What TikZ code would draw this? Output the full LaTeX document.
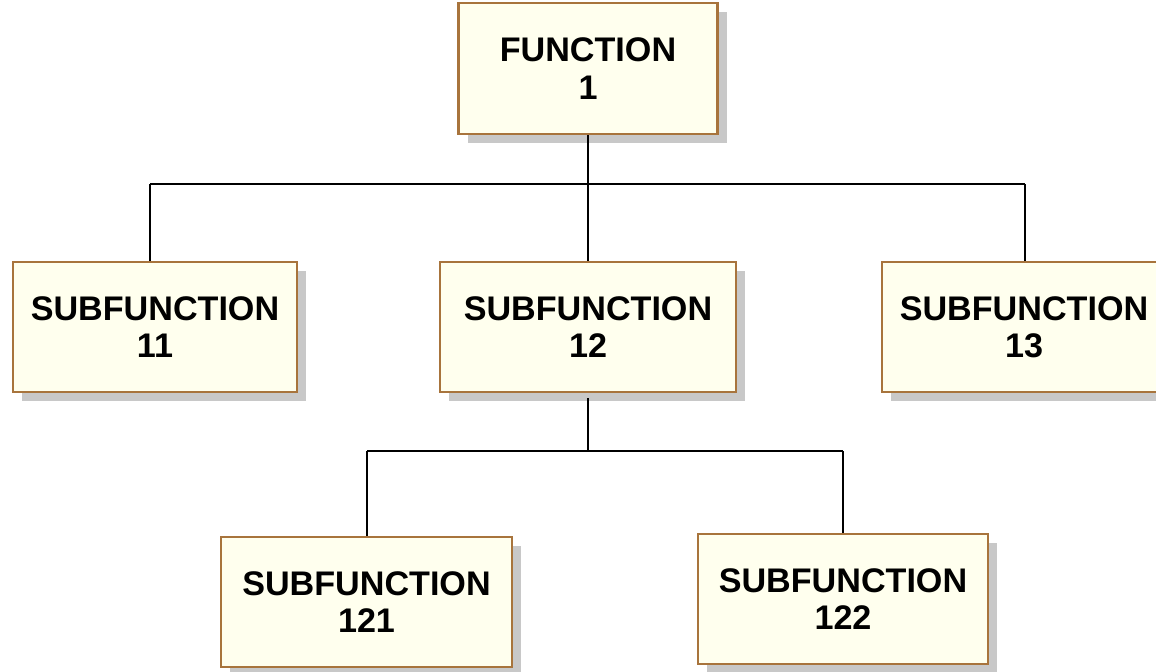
\documentclass[tikz,border=0pt]{standalone}
\usepackage{fontspec}
\newfontfamily\boxfont{Liberation Sans}
\usetikzlibrary{shadows}
\definecolor{boxfill}{HTML}{FFFFEE}
\definecolor{boxline}{HTML}{A8743C}
\definecolor{shadowgray}{HTML}{C8C8C8}
\tikzset{
  fbox/.style={rectangle, draw=boxline, line width=1.6pt, fill=boxfill,
    align=center, inner sep=0pt,
    font=\boxfont\bfseries\fontsize{25.6}{28}\selectfont,
    drop shadow={shadow xshift=6.75pt, shadow yshift=-6.75pt, fill=shadowgray, opacity=1}},
  conn/.style={line width=1.8pt, black}
}
\begin{document}
\begin{tikzpicture}[x=0.75pt,y=-0.75pt]
\useasboundingbox (0,0) rectangle (1156,671);
\clip (0,0) rectangle (1156,671);
\node[fbox, minimum width=259*0.75pt, minimum height=131*0.75pt] (f1) at (588,68.5) {FUNCTION\\1};
\node[fbox, minimum width=284*0.75pt, minimum height=130*0.75pt] (s11) at (155,327) {SUBFUNCTION\\11};
\node[fbox, minimum width=296*0.75pt, minimum height=130*0.75pt] (s12) at (588,327) {SUBFUNCTION\\12};
\node[fbox, minimum width=284*0.75pt, minimum height=130*0.75pt] (s13) at (1024,327) {SUBFUNCTION\\13};
\node[fbox, minimum width=291*0.75pt, minimum height=130*0.75pt] (s121) at (366.5,602) {SUBFUNCTION\\121};
\node[fbox, minimum width=290*0.75pt, minimum height=130*0.75pt] (s122) at (843,599) {SUBFUNCTION\\122};
\coordinate (b11) at (150,184);
\coordinate (b13) at (1025,184);
\coordinate (b121) at (367,451);
\coordinate (b122) at (843,451);
\draw[conn] (f1.south) -- (f1.south |- s12.north);
\draw[conn] (b11) -- (b13);
\draw[conn] (b11) -- (b11 |- s11.north);
\draw[conn] (b13) -- (b13 |- s13.north);
\draw[conn] ([yshift=-3.75pt]s12.south) -- (s12.south |- b121);
\draw[conn] (b121) -- (b122);
\draw[conn] (b121) -- (b121 |- s121.north);
\draw[conn] (b122) -- (b122 |- s122.north);
\end{tikzpicture}
\end{document}
